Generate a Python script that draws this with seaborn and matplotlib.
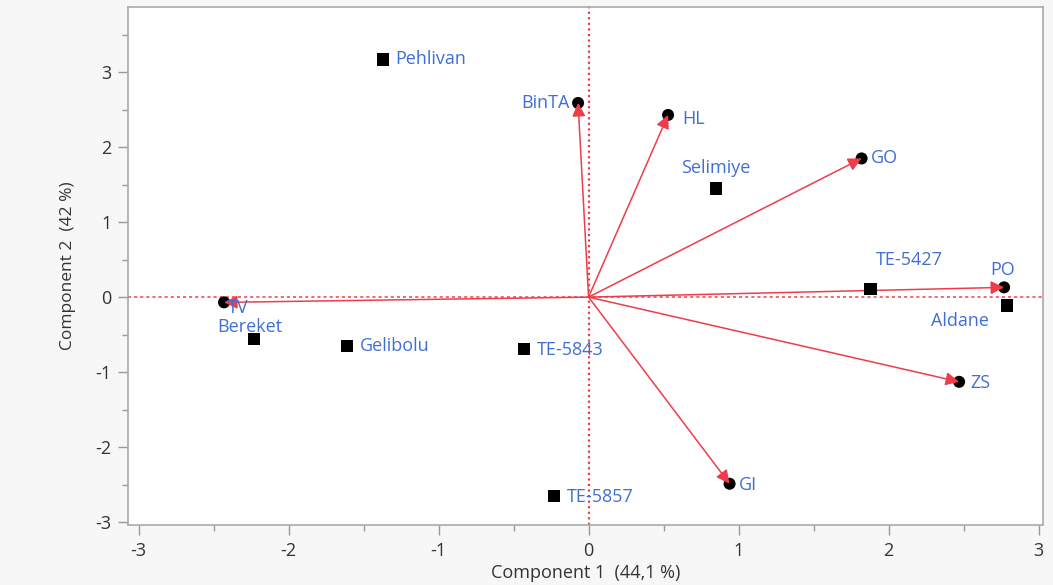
import numpy as np
import pandas as pd
import matplotlib
matplotlib.use('Agg')
import matplotlib.pyplot as plt
import seaborn as sns
from matplotlib.patches import FancyArrowPatch

# sample scores (black squares)
cultivars = ['Pehlivan', 'Selimiye', 'TE-5427', 'Aldane', 'Bereket', 'Gelibolu', 'TE-5843', 'TE-5857']
pc1_scores = [-1.37, 0.85, 1.88, 2.79, -2.23, -1.61, -0.43, -0.23]
pc2_scores = [3.17, 1.45, 0.11, -0.11, -0.56, -0.65, -0.69, -2.65]

# variable loadings (red arrows)
traits = ['BinTA', 'HL', 'GO', 'PO', 'ZS', 'GI', 'TV']
pc1_load = [-0.07, 0.53, 1.82, 2.77, 2.47, 0.94, -2.43]
pc2_load = [2.59, 2.43, 1.85, 0.13, -1.13, -2.49, -0.07]

scores = pd.DataFrame({'name': cultivars, 'pc1': pc1_scores, 'pc2': pc2_scores})
loads = pd.DataFrame({'name': traits, 'pc1': pc1_load, 'pc2': pc2_load})

sns.set_style('ticks')
plt.rcParams['font.family'] = ['Open Sans', 'DejaVu Sans']
plt.rcParams['axes.unicode_minus'] = False

red = '#ee3d4a'
blue = '#3f6fd6'
txt = '#333333'

fig = plt.figure(figsize=(10.53, 5.85), dpi=100, facecolor='#f7f7f7')
ax = fig.add_axes([0.1216, 0.1026, 0.869, 0.8854])
ax.set_facecolor('white')

ax.axhline(0, color=red, ls=(0, (2, 2)), lw=1.1, zorder=1)
ax.axvline(0, color=red, ls=(0, (1, 1.5)), lw=1.6, zorder=1)

# black dot at each arrow tip, arrow drawn over it
sns.scatterplot(data=loads, x='pc1', y='pc2', marker='o', s=75, color='black',
                edgecolor='none', ax=ax, zorder=3, legend=False)
for _, r in loads.iterrows():
    arr = FancyArrowPatch((0, 0), (r.pc1, r.pc2), arrowstyle='-|>', color=red, lw=1.1,
                          mutation_scale=20, shrinkA=0, shrinkB=0, zorder=4)
    ax.add_patch(arr)

sns.scatterplot(data=scores, x='pc1', y='pc2', marker='s', s=80, color='black',
                edgecolor='none', ax=ax, zorder=5, legend=False)

# label offsets in points
score_off = {'Pehlivan': (9, 0, 'left', 'center'), 'Selimiye': (0, 8, 'center', 'bottom'),
             'TE-5427': (28, 14, 'center', 'bottom'), 'Aldane': (-34, -5, 'center', 'top'),
             'Bereket': (-3, 2, 'center', 'bottom'), 'Gelibolu': (9, 0, 'left', 'center'),
             'TE-5843': (9, -1, 'left', 'center'), 'TE-5857': (9, -1, 'left', 'center')}
load_off = {'BinTA': (-6, 0, 'right', 'center'), 'HL': (10, -3, 'left', 'center'),
            'GO': (7, 0, 'left', 'center'), 'PO': (-1, 6, 'center', 'bottom'),
            'ZS': (8, -1, 'left', 'center'), 'GI': (7, -1, 'left', 'center'),
            'TV': (3, -4, 'left', 'center')}
for df, offs in [(scores, score_off), (loads, load_off)]:
    for _, r in df.iterrows():
        dx, dy, ha, va = offs[r['name']]
        ax.annotate(r['name'], (r.pc1, r.pc2), xytext=(dx, dy), textcoords='offset points',
                    ha=ha, va=va, color=blue, fontsize=13, zorder=6)

ax.set_xlim(-3.07, 3.03)
ax.set_ylim(-3.04, 3.87)
ax.set_xticks([-3, -2, -1, 0, 1, 2, 3])
ax.set_yticks([-3, -2, -1, 0, 1, 2, 3])
ax.set_xticks(np.arange(-2.5, 3, 1), minor=True)
ax.set_yticks(np.arange(-2.5, 4, 1), minor=True)
ax.tick_params(which='major', length=7, width=1, color='#999999', labelsize=13,
               labelcolor=txt, pad=5)
ax.tick_params(which='minor', length=4, width=1, color='#999999')
for s in ax.spines.values():
    s.set_color('#aaaaaa')
    s.set_linewidth(1.2)

ax.set_xlabel('Component 1  (44,1 %)', fontsize=13, color=txt, labelpad=3)
ax.set_ylabel('Component 2  (42 %)', fontsize=12.5, color=txt, labelpad=14)

fig.savefig('out.png', dpi=100, facecolor=fig.get_facecolor())
